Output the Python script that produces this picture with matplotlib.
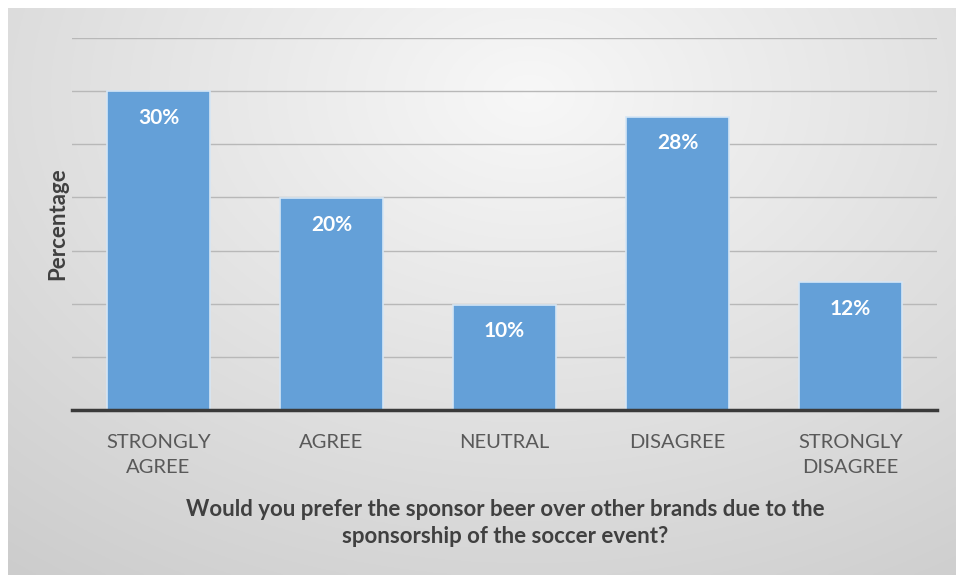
import numpy as np
import matplotlib.pyplot as plt

categories = ['STRONGLY\nAGREE', 'AGREE', 'NEUTRAL', 'DISAGREE', 'STRONGLY\nDISAGREE']
values = [30, 19.9, 9.9, 27.6, 12]
bar_labels = ['30%', '20%', '10%', '28%', '12%']
title = 'Would you prefer the sponsor beer over other brands due to the\nsponsorship of the soccer event?'

plt.rcParams['font.family'] = ['Lato', 'DejaVu Sans']

fig = plt.figure(figsize=(9.56, 5.75), dpi=100)
fig.patch.set_facecolor('white')

# gray radial gradient panel behind everything
bg = fig.add_axes([8 / 956, 0, 948 / 956, 567 / 575], zorder=0)
yy, xx = np.mgrid[0:1:300j, 0:1:500j]
d = np.sqrt(((xx - 0.55) / 0.75) ** 2 + ((yy - 0.15) / 0.9) ** 2)
shade = 0.97 - 0.17 * np.clip(d, 0, 1.2) / 1.2
bg.imshow(np.dstack([shade, shade, shade]), aspect='auto', extent=[0, 1, 0, 1], origin='upper')
bg.axis('off')

ax = fig.add_axes([72 / 956, 165 / 575, 865 / 956, 372 / 575], zorder=1)
ax.patch.set_alpha(0)
x = np.arange(len(categories))
bars = ax.bar(x, values, width=0.59, color='#64A0D8', edgecolor='#D6E6F5', linewidth=1.2, zorder=3)
for b, lab in zip(bars, bar_labels):
    ax.annotate(lab, (b.get_x() + b.get_width() / 2, b.get_height()), xytext=(0, -19),
                textcoords='offset points', ha='center', va='center', color='white',
                fontsize=15, fontweight='bold', zorder=4)

ax.set_xlim(-0.5, len(categories) - 0.5)
ax.set_ylim(0, 35)
ax.set_yticks(np.arange(0, 36, 5))
ax.yaxis.grid(True, color='#B8B8B8', linewidth=1, zorder=0)
ax.set_yticklabels([])
ax.tick_params(axis='y', length=0)
ax.tick_params(axis='x', length=0, pad=17, labelsize=14.5, labelcolor='#595959')
ax.set_xticks(x)
ax.set_xticklabels(categories, linespacing=1.6)
for s in ['top', 'right', 'left']:
    ax.spines[s].set_visible(False)
ax.spines['bottom'].set_color('#3A3A3A')
ax.spines['bottom'].set_linewidth(2.5)
ax.spines['bottom'].set_zorder(5)

ax.set_ylabel('Percentage', fontsize=16, fontweight='bold', color='#404040', labelpad=-1)
fig.text(505 / 956, 1 - 523 / 575, title, ha='center', va='center', fontsize=16,
         fontweight='bold', color='#404040', linespacing=1.4)

fig.savefig('out.png', dpi=100)
